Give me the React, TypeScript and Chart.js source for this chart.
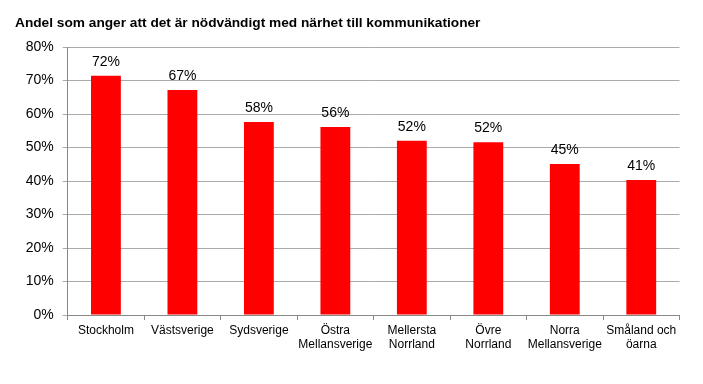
import React, { useEffect, useRef } from "react";
import { Chart, registerables } from "chart.js";

Chart.register(...registerables);

const categories: (string | string[])[] = [
  "Stockholm",
  "Västsverige",
  "Sydsverige",
  ["Östra", "Mellansverige"],
  ["Mellersta", "Norrland"],
  ["Övre", "Norrland"],
  ["Norra", "Mellansverige"],
  ["Småland och", "öarna"],
];
const values = [71.4, 67.2, 57.6, 56.1, 52.0, 51.6, 45.1, 40.3];
const valueLabels = ["72%", "67%", "58%", "56%", "52%", "52%", "45%", "41%"];
const yTicks = [0, 10, 20, 30, 40, 50, 60, 70, 80];
const title = "Andel som anger att det är nödvändigt med närhet till kommunikationer";

const FONT = "'Liberation Sans', Arial, sans-serif";

const labelPlugin = {
  id: "valueLabels",
  afterDatasetsDraw(chart: any) {
    const ctx = chart.ctx;
    const meta = chart.getDatasetMeta(0);
    ctx.save();
    ctx.font = `14px ${FONT}`;
    ctx.fillStyle = "#000";
    ctx.textAlign = "center";
    ctx.textBaseline = "alphabetic";
    meta.data.forEach((bar: any, i: number) => {
      ctx.fillText(valueLabels[i], bar.x, bar.y - 10);
    });
    ctx.restore();
  },
};

export default function App() {
  const ref = useRef<HTMLCanvasElement>(null);
  useEffect(() => {
    document.body.style.margin = "0";
    const chart = new Chart(ref.current!, {
      type: "bar",
      data: {
        labels: categories,
        datasets: [
          {
            data: values,
            backgroundColor: "#ff0000",
            borderWidth: 0,
            barPercentage: 0.78,
            categoryPercentage: 0.5,
          },
        ],
      },
      options: {
        animation: false,
        responsive: false,
        maintainAspectRatio: false,
        layout: { padding: { left: 15, right: 23.5, top: 0, bottom: 24 } },
        plugins: {
          legend: { display: false },
          tooltip: { enabled: false },
          title: {
            display: true,
            text: title,
            align: "start",
            color: "#000",
            font: { family: FONT, size: 13.7, weight: "bold" },
            padding: { top: 15, bottom: 15.6 },
          },
        },
        scales: {
          x: {
            afterFit: (axis: any) => {
              axis.height = 45;
            },
            grid: {
              display: true,
              drawOnChartArea: false,
              drawTicks: true,
              tickLength: 5,
              offset: true,
              color: "#888",
            },
            border: { color: "#888" },
            ticks: {
              color: "#000",
              font: { family: FONT, size: 12 },
              maxRotation: 0,
              autoSkip: false,
              padding: 3,
            },
          },
          y: {
            min: 0,
            max: 80,
            afterFit: (axis: any) => {
              axis.width = 52.7;
            },
            afterBuildTicks: (axis: any) => {
              axis.ticks = yTicks.map((v) => ({ value: v }));
            },
            grid: { color: "#aaa", tickLength: 5 },
            border: { color: "#888" },
            ticks: {
              color: "#000",
              font: { family: FONT, size: 14 },
              padding: 9,
              callback: (v: any) => `${v}%`,
            },
          },
        },
      },
      plugins: [labelPlugin],
    });
    return () => chart.destroy();
  }, []);
  return (
    <div style={{ position: "absolute", left: 0, top: 0, width: 703, height: 384 }}>
      <canvas ref={ref} width={703} height={384} />
    </div>
  );
}
